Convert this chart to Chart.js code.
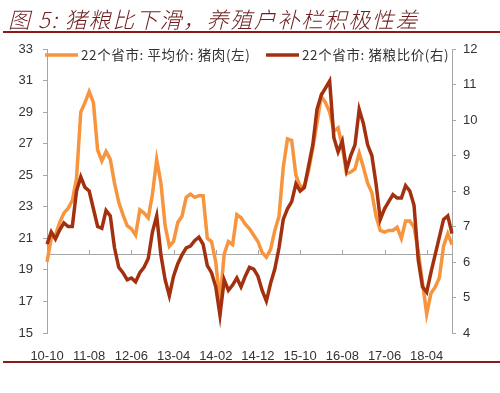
<!DOCTYPE html>
<html>
<head>
<meta charset="utf-8">
<script src="https://cdn.jsdelivr.net/npm/chart.js@4.4.0/dist/chart.umd.min.js"></script>
<style>
  body { margin: 0; background: #fff; width: 500px; height: 393px; overflow: hidden; position: relative; }
  #titulo { position: absolute; left: 8px; top: 2px; font: italic 300 22px "Noto Sans CJK SC", sans-serif; letter-spacing: 1.6px; color: #6e1c1c; white-space: nowrap; z-index: 2; }
  .linha { position: absolute; left: 3px; width: 497px; height: 2px; background: #8b1a1a; z-index: 2; }
  #caixa { position: absolute; left: 0; top: 0; width: 500px; height: 393px; }
</style>
</head>
<body>
<div id="titulo">图 5: 猪粮比下滑，养殖户补栏积极性差</div>
<div class="linha" style="top:31px"></div>
<div class="linha" style="top:361px"></div>
<div id="caixa"><canvas id="grafico" width="500" height="393"></canvas></div>
<script>
// meses de 2010-10 a 2018-10
const meses = [];
for (let a = 10; a <= 18; a++) {
    for (let m = 1; m <= 12; m++) {
        if ((a === 10 && m < 10) || (a === 18 && m > 10)) continue;
        meses.push(a + '-' + String(m).padStart(2, '0'));
    }
}

const rotulosEixo = ['10-10', '11-08', '12-06', '13-04', '14-02', '14-12', '15-10', '16-08', '17-06', '18-04'];

const nomeCarne = '22个省市: 平均价: 猪肉(左)';
const nomeRazao = '22个省市: 猪粮比价(右)';

// 猪肉平均价 (eixo esquerdo)
const precoCarne = [
    19.5, 21.0, 21.2, 22.0, 22.6, 22.9, 23.4, 24.8, 29.0, 29.6,
    30.3, 29.6, 26.6, 25.9, 26.5, 26.0, 24.5, 23.3, 22.5, 21.8,
    21.6, 21.2, 22.8, 22.6, 22.3, 23.8, 26.0, 24.5, 21.8, 20.5,
    20.8, 22.0, 22.4, 23.6, 23.8, 23.6, 23.7, 23.7, 21.0, 20.8,
    19.5, 17.0, 20.0, 20.8, 20.6, 22.5, 22.3, 21.9, 21.6, 21.2,
    20.8, 20.1, 19.8, 20.3, 21.5, 22.4, 25.5, 27.3, 27.2, 25.0,
    24.3, 24.3, 25.3, 26.7, 28.3, 30.0, 29.6, 29.0, 27.8, 28.0,
    26.8, 25.1, 25.2, 25.4, 26.4, 25.5, 24.5, 23.9, 22.4, 21.5,
    21.4, 21.5, 21.5, 21.7, 21.0, 22.1, 22.1, 21.7, 20.2, 18.2,
    16.2, 17.5, 17.9, 18.5, 20.5, 21.3, 20.6
];

// 猪粮比价 (eixo direito)
const razaoGrao = [
    6.5, 6.85, 6.65, 6.9, 7.1, 7.0, 7.0, 8.0, 8.4, 8.1,
    8.0, 7.5, 7.0, 6.95, 7.45, 7.3, 6.4, 5.85, 5.7, 5.5,
    5.55, 5.44, 5.7, 5.85, 6.1, 6.85, 7.3, 6.2, 5.5, 5.05,
    5.6, 5.95, 6.2, 6.4, 6.45, 6.6, 6.7, 6.5, 5.9, 5.7,
    5.3, 4.5, 5.5, 5.2, 5.35, 5.55, 5.3, 5.6, 5.85, 5.8,
    5.6, 5.2, 4.9, 5.4, 5.8, 6.4, 7.2, 7.5, 7.7, 8.2,
    8.0, 8.1, 8.7, 9.3, 10.3, 10.7, 10.9, 11.1, 9.5, 9.1,
    9.4, 8.6, 9.0, 9.3, 10.3, 9.9, 9.3, 9.0, 8.2, 7.2,
    7.5, 7.7, 7.9, 7.8, 7.8, 8.15, 8.0, 7.6, 6.06, 5.3,
    5.15, 5.7, 6.2, 6.7, 7.2, 7.3, 6.8
];

const corCarne = '#f7943e';
const corRazao = '#a3300f';
const corEixo = '#a6a6a6';

// linha horizontal do eixo x (cruza em 20) e marcas de tick
const eixoCentral = {
    id: 'eixoCentral',
    beforeDatasetsDraw(chart) {
        const ctx = chart.ctx;
        const area = chart.chartArea;
        const y = chart.scales.yL.getPixelForValue(20);
        ctx.save();
        ctx.strokeStyle = corEixo;
        ctx.lineWidth = 1;
        ctx.beginPath();
        ctx.moveTo(area.left, Math.round(y) + 0.5);
        ctx.lineTo(area.right, Math.round(y) + 0.5);
        meses.forEach((m, i) => {
            if (i > 0 && rotulosEixo.includes(m)) {
                const x = Math.round(chart.scales.x.getPixelForValue(i)) + 0.5;
                ctx.moveTo(x, Math.round(y));
                ctx.lineTo(x, Math.round(y) - 4);
            }
        });
        ctx.stroke();
        ctx.restore();
    }
};

const legenda = {
    id: 'legenda',
    afterDraw(chart) {
        const ctx = chart.ctx;
        const y = 55;
        ctx.save();
        ctx.lineWidth = 3.5;
        ctx.font = '13.5px "Noto Sans CJK SC", sans-serif';
        ctx.letterSpacing = '0.6px';
        ctx.fillStyle = '#333';
        ctx.textBaseline = 'middle';
        [[45, corCarne, nomeCarne], [266, corRazao, nomeRazao]].forEach(([x, cor, nome]) => {
            ctx.strokeStyle = cor;
            ctx.beginPath();
            ctx.moveTo(x, y);
            ctx.lineTo(x + 33, y);
            ctx.stroke();
            ctx.fillText(nome, x + 36, y);
        });
        ctx.restore();
    }
};

const fonteEixo = { family: '"Liberation Sans", Arial, sans-serif', size: 13 };

new Chart(document.getElementById('grafico').getContext('2d'), {
    type: 'line',
    data: {
        labels: meses,
        datasets: [
            {
                label: nomeCarne,
                data: precoCarne,
                yAxisID: 'yL',
                borderColor: corCarne,
                borderWidth: 3.5,
                pointRadius: 0,
                tension: 0,
                order: 1
            },
            {
                label: nomeRazao,
                data: razaoGrao,
                yAxisID: 'yR',
                borderColor: corRazao,
                borderWidth: 3.5,
                pointRadius: 0,
                tension: 0,
                order: 0
            }
        ]
    },
    options: {
        responsive: false,
        animation: false,
        layout: { padding: { top: 49, left: 0, right: 0, bottom: 0 } },
        plugins: { legend: { display: false }, tooltip: { enabled: false } },
        scales: {
            x: {
                offset: false,
                grid: { display: false },
                border: { display: false },
                ticks: {
                    autoSkip: false,
                    maxRotation: 0,
                    padding: 8,
                    color: '#333',
                    font: fonteEixo,
                    callback: (v, i) => rotulosEixo.includes(meses[i]) ? meses[i] : null
                },
                afterFit: (s) => { s.height = 60; }
            },
            yL: {
                position: 'left',
                min: 15,
                max: 33,
                ticks: { stepSize: 2, padding: 10, color: '#333', font: fonteEixo },
                grid: { drawOnChartArea: false, tickLength: 4, color: corEixo },
                border: { color: corEixo },
                afterFit: (s) => { s.width = 47; }
            },
            yR: {
                position: 'right',
                min: 4,
                max: 12,
                ticks: { stepSize: 1, padding: 7, color: '#333', font: fonteEixo },
                grid: { drawOnChartArea: false, tickLength: 4, color: corEixo },
                border: { color: corEixo },
                afterFit: (s) => { s.width = 48; }
            }
        }
    },
    plugins: [eixoCentral, legenda]
});
</script>
</body>
</html>
